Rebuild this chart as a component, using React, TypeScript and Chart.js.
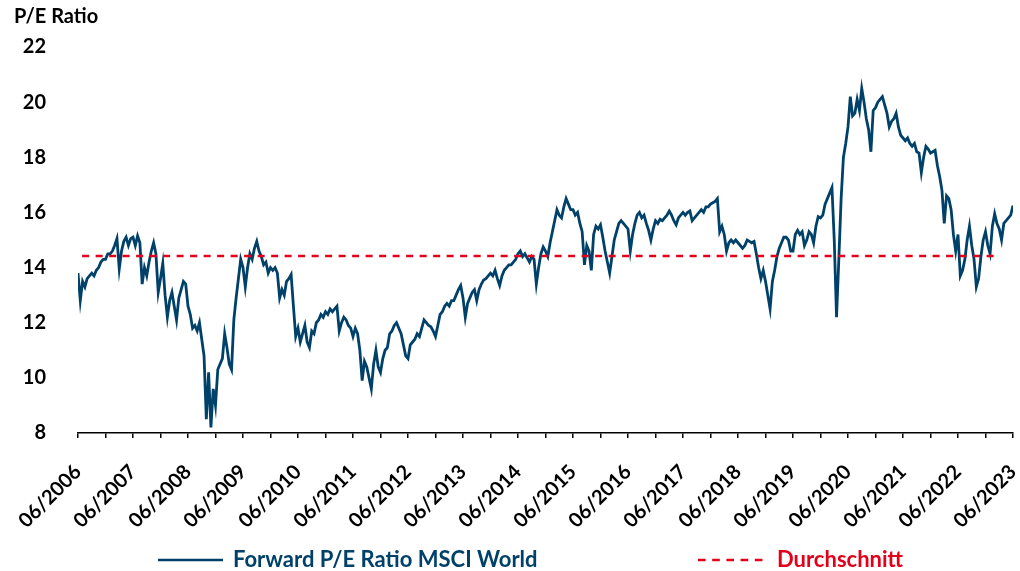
import React, { useEffect, useRef } from "react";
import { Chart, registerables } from "chart.js";

Chart.register(...registerables);

// ---- Data ----
const tickLabels = [
  "06/2006", "06/2007", "06/2008", "06/2009", "06/2010", "06/2011",
  "06/2012", "06/2013", "06/2014", "06/2015", "06/2016", "06/2017",
  "06/2018", "06/2019", "06/2020", "06/2021", "06/2022", "06/2023",
];
const seriesName = "Forward P/E Ratio MSCI World";
const averageName = "Durchschnitt";
const axisTitle = "P/E Ratio";
const averageValue = 14.42;
// months after 06/2006 where the average line starts / ends
const averageSpan = [0.9, 200.5];

// semi-monthly readings (two per month), June to May of each year
const pe2006_07 = [13.8, 12.8, 13.5, 13.3, 13.6, 13.7, 13.8, 13.7, 13.9, 14.0, 14.2, 14.3, 14.3, 14.5, 14.5, 14.6, 14.8, 15.05, 13.95, 14.6, 14.95, 15.1, 14.8, 15.05];
const pe2007_08 = [15.1, 14.8, 15.15, 14.9, 13.4, 14.0, 13.7, 14.2, 14.6, 14.9, 14.5, 13.1, 13.6, 14.15, 13.0, 12.2, 12.8, 13.1, 12.6, 12.1, 12.9, 13.2, 13.5, 13.4];
const pe2008_09 = [12.6, 12.3, 11.8, 11.9, 11.7, 12.0, 11.4, 10.8, 8.5, 10.2, 8.2, 9.6, 9.0, 10.3, 10.5, 10.7, 11.6, 11.1, 10.5, 10.3, 12.1, 12.9, 13.6, 14.3];
const pe2009_10 = [14.0, 13.3, 14.0, 14.5, 14.3, 14.7, 14.95, 14.6, 14.4, 14.1, 14.2, 13.8, 14.0, 13.9, 14.0, 13.8, 12.9, 13.2, 13.0, 13.5, 13.6, 13.75, 12.6, 11.5];
const pe2010_11 = [11.8, 11.3, 11.6, 11.9, 11.3, 11.1, 11.7, 11.6, 12.0, 12.1, 12.3, 12.2, 12.4, 12.3, 12.5, 12.4, 12.5, 12.6, 11.7, 12.0, 12.2, 12.1, 11.9, 11.8];
const pe2011_12 = [11.5, 11.8, 11.6, 11.0, 9.9, 10.6, 10.4, 10.0, 9.6, 10.5, 11.0, 10.4, 10.2, 10.7, 11.0, 11.1, 11.6, 11.7, 11.9, 12.0, 11.8, 11.6, 11.2, 10.8];
const pe2012_13 = [10.7, 11.2, 11.3, 11.4, 11.6, 11.5, 11.8, 12.1, 12.0, 11.9, 11.85, 11.7, 11.5, 11.9, 12.3, 12.4, 12.6, 12.7, 12.6, 12.8, 12.8, 13.0, 13.2, 13.35];
const pe2013_14 = [12.9, 12.2, 12.7, 12.9, 13.1, 13.2, 12.8, 13.2, 13.4, 13.55, 13.6, 13.7, 13.8, 13.7, 13.9, 13.6, 13.35, 13.7, 13.9, 14.0, 14.1, 14.1, 14.2, 14.3];
const pe2014_15 = [14.5, 14.6, 14.4, 14.5, 14.35, 14.2, 14.4, 14.3, 13.4, 14.0, 14.5, 14.75, 14.6, 14.4, 14.9, 15.3, 15.7, 16.1, 15.9, 15.8, 16.2, 16.5, 16.3, 16.1];
const pe2015_16 = [16.1, 15.9, 16.0, 15.6, 15.3, 14.1, 14.8, 14.6, 13.9, 15.2, 15.5, 15.4, 15.55, 15.1, 14.6, 14.2, 13.8, 14.4, 15.0, 15.3, 15.6, 15.7, 15.6, 15.5];
const pe2016_17 = [15.4, 14.6, 15.2, 15.6, 15.9, 16.0, 15.8, 15.9, 15.6, 15.35, 15.0, 15.4, 15.7, 15.6, 15.75, 15.7, 15.8, 15.9, 16.05, 15.9, 15.7, 15.55, 15.8, 15.9];
const pe2017_18 = [16.0, 15.9, 16.0, 16.05, 15.7, 15.8, 15.9, 16.0, 16.1, 16.0, 16.2, 16.2, 16.3, 16.35, 16.4, 16.5, 15.3, 15.5, 15.2, 14.6, 14.9, 15.0, 14.9, 15.0];
const pe2018_19 = [14.9, 14.8, 14.7, 14.8, 15.0, 14.95, 14.9, 14.95, 14.5, 14.0, 13.6, 13.9, 13.5, 13.0, 12.5, 13.5, 13.9, 14.4, 14.7, 14.9, 15.1, 15.1, 15.0, 14.6];
const pe2019_20 = [14.6, 15.2, 15.35, 15.2, 15.3, 14.8, 15.0, 15.3, 15.2, 14.9, 15.5, 15.85, 15.8, 15.9, 16.3, 16.5, 16.7, 16.9, 15.0, 12.2, 14.3, 16.5, 18.0, 18.5];
const pe2020_21 = [19.1, 20.2, 19.5, 19.6, 20.1, 19.7, 20.5, 20.0, 19.4, 19.0, 18.2, 19.7, 19.8, 20.0, 20.1, 20.2, 19.9, 19.6, 19.1, 19.3, 19.4, 19.6, 19.1, 18.8];
const pe2021_22 = [18.7, 18.6, 18.7, 18.5, 18.4, 18.5, 18.2, 18.15, 17.45, 18.0, 18.4, 18.3, 18.15, 18.2, 18.25, 17.7, 17.3, 16.8, 15.6, 16.6, 16.5, 16.1, 15.2, 14.6];
const pe2022_23 = [15.2, 13.7, 13.9, 14.3, 15.0, 15.5, 14.8, 14.3, 13.3, 13.6, 14.4, 15.0, 15.3, 14.8, 14.5, 15.5, 15.95, 15.6, 15.4, 15.0, 15.6, 15.7, 15.8, 15.9, 16.25];

const yMin = 8;
const yMax = 22;
const yStep = 2;

const BLUE = "#00416A";
const RED = "#E2001A";
const FONT = "Lato, 'Open Sans', sans-serif";

const overlayPlugin = {
  id: "overlay",
  afterDraw(chart: any) {
    const ctx = chart.ctx as CanvasRenderingContext2D;
    ctx.save();
    ctx.textBaseline = "middle";
    ctx.textAlign = "left";
    ctx.font = `bold 20px ${FONT}`;
    ctx.fillStyle = "#000";
    ctx.fillText(axisTitle, 14, 17);

    const ly = 560;
    ctx.font = `bold 22px ${FONT}`;
    ctx.lineWidth = 2.5;
    ctx.strokeStyle = BLUE;
    ctx.beginPath();
    ctx.moveTo(158, ly);
    ctx.lineTo(223, ly);
    ctx.stroke();
    ctx.fillStyle = BLUE;
    ctx.fillText(seriesName, 233, ly);

    ctx.strokeStyle = RED;
    ctx.setLineDash([7.6, 6.6]);
    ctx.beginPath();
    ctx.moveTo(698, ly);
    ctx.lineTo(763, ly);
    ctx.stroke();
    ctx.setLineDash([]);
    ctx.fillStyle = RED;
    ctx.fillText(averageName, 777, ly);
    ctx.restore();
  },
};

export default function App() {
  const ref = useRef<HTMLCanvasElement>(null);

  useEffect(() => {
    const peValues = [
      ...pe2006_07, ...pe2007_08, ...pe2008_09, ...pe2009_10, ...pe2010_11,
      ...pe2011_12, ...pe2012_13, ...pe2013_14, ...pe2014_15, ...pe2015_16,
      ...pe2016_17, ...pe2017_18, ...pe2018_19, ...pe2019_20, ...pe2020_21,
      ...pe2021_22, ...pe2022_23,
    ];
    const peData = peValues.map((v, i) => ({ x: i / 2, y: v }));
    const avgData = averageSpan.map((m) => ({ x: m, y: averageValue }));

    const chart = new Chart(ref.current as HTMLCanvasElement, {
      type: "line",
      data: {
        datasets: [
          {
            label: averageName,
            data: avgData,
            borderColor: RED,
            borderWidth: 2.5,
            borderDash: [7, 6.5],
            pointRadius: 0,
            fill: false,
          },
          {
            label: seriesName,
            data: peData,
            borderColor: BLUE,
            borderWidth: 2.8,
            pointRadius: 0,
            tension: 0,
            fill: false,
          },
        ],
      },
      options: {
        animation: false,
        responsive: true,
        maintainAspectRatio: false,
        layout: { padding: { top: 47, right: 7, left: 0, bottom: 0 } },
        plugins: {
          legend: { display: false },
          tooltip: { enabled: false },
          title: { display: false },
        },
        scales: {
          x: {
            type: "linear",
            min: 0,
            max: 204,
            afterFit: (s: any) => {
              s.height = 138;
              s.paddingLeft = 0;
              s.paddingRight = 0;
            },
            grid: {
              display: true,
              drawOnChartArea: false,
              drawTicks: true,
              tickLength: 5,
              color: "#000",
              lineWidth: 1.5,
            },
            border: { display: true, color: "#000", width: 1.5 },
            ticks: {
              stepSize: 6,
              autoSkip: false,
              maxRotation: 45,
              minRotation: 45,
              padding: 22,
              color: "#000",
              font: { family: FONT, size: 20, weight: "bold" },
              callback: (v: any) => (Number(v) % 12 === 0 ? tickLabels[Number(v) / 12] : ""),
            },
          },
          y: {
            type: "linear",
            min: yMin,
            max: yMax,
            afterFit: (s: any) => {
              s.width = 78;
              s.paddingTop = 0;
              s.paddingBottom = 0;
            },
            grid: { display: false },
            border: { display: false },
            ticks: {
              stepSize: yStep,
              padding: 24,
              color: "#000",
              font: { family: FONT, size: 20, weight: "bold" },
            },
          },
        },
      },
      plugins: [overlayPlugin],
    });
    return () => chart.destroy();
  }, []);

  return (
    <div
      style={{
        position: "fixed",
        left: 0,
        top: 0,
        width: 1020,
        height: 571,
        background: "#fff",
      }}
    >
      <canvas ref={ref} />
    </div>
  );
}
